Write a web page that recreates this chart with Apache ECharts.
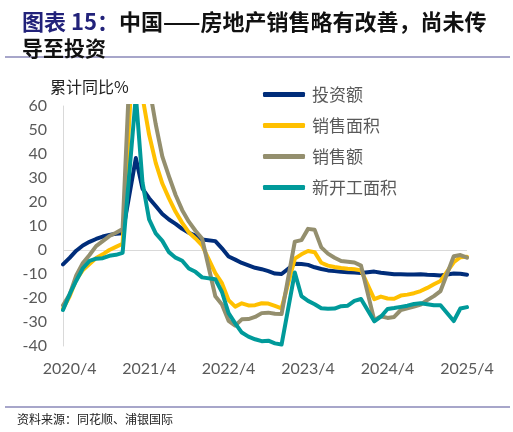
<!DOCTYPE html>
<html>
<head>
<meta charset="utf-8">
<script src="https://cdn.jsdelivr.net/npm/echarts@6/dist/echarts.min.js"></script>
<style>
html,body{margin:0;padding:0;background:#fff;}
#chart{width:513px;height:432px;}
</style>
</head>
<body>
<div id="chart"></div>
<script>
// Monthly categories (cumulative YoY %, January not published -> null, lines connect across)
const categories = [
  '2020/3','2020/4','2020/5','2020/6','2020/7','2020/8','2020/9','2020/10','2020/11','2020/12',
  '2021/1','2021/2','2021/3','2021/4','2021/5','2021/6','2021/7','2021/8','2021/9','2021/10','2021/11','2021/12',
  '2022/1','2022/2','2022/3','2022/4','2022/5','2022/6','2022/7','2022/8','2022/9','2022/10','2022/11','2022/12',
  '2023/1','2023/2','2023/3','2023/4','2023/5','2023/6','2023/7','2023/8','2023/9','2023/10','2023/11','2023/12',
  '2024/1','2024/2','2024/3','2024/4','2024/5','2024/6','2024/7','2024/8','2024/9','2024/10','2024/11','2024/12',
  '2025/1','2025/2','2025/3','2025/4'
];
const investment = [
  -6.0,-3.3,-0.3,1.9,3.4,4.6,5.6,6.3,6.8,7.0,
  null,38.3,25.6,21.6,18.3,15.0,12.7,10.9,8.8,7.2,6.0,4.4,
  null,3.7,0.7,-2.7,-4.0,-5.4,-6.4,-7.4,-8.0,-8.8,-9.8,-10.0,
  null,-5.7,-5.8,-6.2,-7.2,-7.9,-8.5,-8.8,-9.1,-9.3,-9.4,-9.6,
  null,-9.0,-9.5,-9.8,-10.1,-10.1,-10.2,-10.2,-10.1,-10.3,-10.4,-10.6,
  null,-9.8,-9.9,-10.3
];
const salesArea = [
  -24.5,-19.3,-12.3,-8.4,-5.8,-3.3,-1.8,0.0,1.3,2.6,
  null,104.9,63.8,48.1,36.3,27.7,21.5,15.9,11.3,7.3,4.8,1.9,
  null,-9.6,-13.8,-20.9,-23.6,-22.2,-23.1,-23.0,-22.2,-22.3,-23.3,-24.3,
  null,-3.6,-1.8,-0.4,-0.9,-5.3,-6.5,-7.1,-7.5,-7.8,-8.0,-8.5,
  null,-20.5,-19.4,-20.2,-20.3,-19.0,-18.6,-18.0,-17.1,-15.8,-14.3,-12.9,
  null,-5.1,-3.0,-2.8
];
const salesValue = [
  -23.0,-18.6,-10.6,-5.4,-2.1,1.6,3.7,5.8,7.2,8.7,
  null,133.4,88.5,68.2,52.4,38.9,30.7,22.9,16.6,11.8,8.0,4.8,
  null,-19.3,-22.7,-29.5,-31.5,-28.9,-28.8,-27.9,-26.3,-26.1,-26.6,-26.7,
  null,3.5,4.1,8.8,8.4,1.1,-1.5,-3.2,-4.6,-4.9,-5.2,-6.5,
  null,-29.3,-27.6,-28.3,-27.9,-25.0,-24.3,-23.6,-22.7,-20.9,-19.2,-17.1,
  null,-2.6,-2.1,-3.2
];
const newStarts = [
  -25.0,-18.4,-12.8,-7.6,-4.5,-3.6,-3.4,-2.4,-2.0,-1.2,
  null,64.3,28.2,12.8,6.9,3.8,-0.9,-3.2,-4.5,-7.7,-9.1,-11.4,
  null,-12.2,-17.5,-26.3,-30.6,-34.4,-36.1,-37.2,-38.0,-37.8,-38.9,-39.4,
  null,-9.4,-19.2,-21.2,-22.6,-24.3,-24.5,-24.4,-23.4,-23.2,-21.2,-20.4,
  null,-29.7,-27.8,-24.6,-24.2,-23.7,-23.2,-22.5,-22.2,-22.6,-23.0,-23.0,
  null,-29.6,-24.4,-23.8
];
const seriesNames = ['投资额','销售面积','销售额','新开工面积'];
const seriesColors = ['#002D7A','#FFC000','#948F6E','#009A9A'];

const chart = echarts.init(document.getElementById('chart'), null, {renderer:'canvas'});
const cjk = '"Noto Sans CJK SC", sans-serif';
const seriesData = [investment, salesArea, salesValue, newStarts];

const series = seriesData.map((d,i)=>({
  name: seriesNames[i],
  type: 'line',
  data: d,
  connectNulls: true,
  showSymbol: false,
  symbol: 'none',
  smooth: false,
  clip: true,
  lineStyle: {width: 4, color: seriesColors[i], cap:'round', join:'round'},
  itemStyle: {color: seriesColors[i]},
  z: 3 + i,
  markLine: i === 0 ? {
    silent: true, symbol: 'none', label: {show:false},
    lineStyle: {color:'#D9D9D9', width:1, type:'solid'},
    data: [{yAxis: 0}], z: 1
  } : undefined
}));

chart.setOption({
  animation: false,
  backgroundColor: '#fff',
  title: {
    left: 17, top: 4,
    text: '{a|图表 15：}{b|中国——房地产销售略有改善，尚未传}\n{c|导至投资}',
    textStyle: {
      rich: {
        a: {fontFamily: cjk, fontSize: 22, fontWeight: 'bold', color: '#22227A', lineHeight: 26},
        b: {fontFamily: cjk, fontSize: 22, fontWeight: 'bold', color: '#111', lineHeight: 26},
        c: {fontFamily: cjk, fontSize: 21, fontWeight: 'bold', color: '#111', lineHeight: 26}
      }
    }
  },
  graphic: [
    {type:'line', shape:{x1:5, y1:57, x2:510, y2:57}, style:{stroke:'#8A88B8', lineWidth:1.5}},
    {type:'line', shape:{x1:5, y1:407, x2:510, y2:407}, style:{stroke:'#8A88B8', lineWidth:1.5}},
    {type:'text', left:50, top:79, style:{text:'累计同比%', font:'16px "Noto Sans CJK SC"', fill:'#222'}},
    {type:'text', left:17, top:413, style:{text:'资料来源：同花顺、浦银国际', font:'12px "Noto Sans CJK SC"', fill:'#222'}}
  ],
  legend: {
    orient: 'vertical',
    left: 258, top: 81,
    itemWidth: 42, itemHeight: 5, itemGap: 14,
    icon: 'roundRect',
    data: seriesNames,
    textStyle: {fontFamily: cjk, fontSize: 17, color: '#595959', padding:[0,0,0,2]}
  },
  grid: {left: 63, right: 46, top: 106, bottom: 86, containLabel: false},
  xAxis: {
    type: 'category',
    data: categories,
    boundaryGap: false,
    axisLine: {show: false},
    axisTick: {show: false},
    axisLabel: {
      interval: function(idx, val){ return /\/4$/.test(val); },
      color: '#595959', fontFamily: 'Lato', fontSize: 16, margin: 15
    },
    splitLine: {show: false}
  },
  yAxis: {
    type: 'value',
    min: -40, max: 60, interval: 10,
    axisLine: {show: true, lineStyle: {color: '#D9D9D9', width: 1}},
    axisTick: {show: false},
    axisLabel: {color: '#595959', fontFamily: 'Lato', fontSize: 16, margin: 16},
    splitLine: {show: false}
  },
  series: series
});
</script>
</body>
</html>
